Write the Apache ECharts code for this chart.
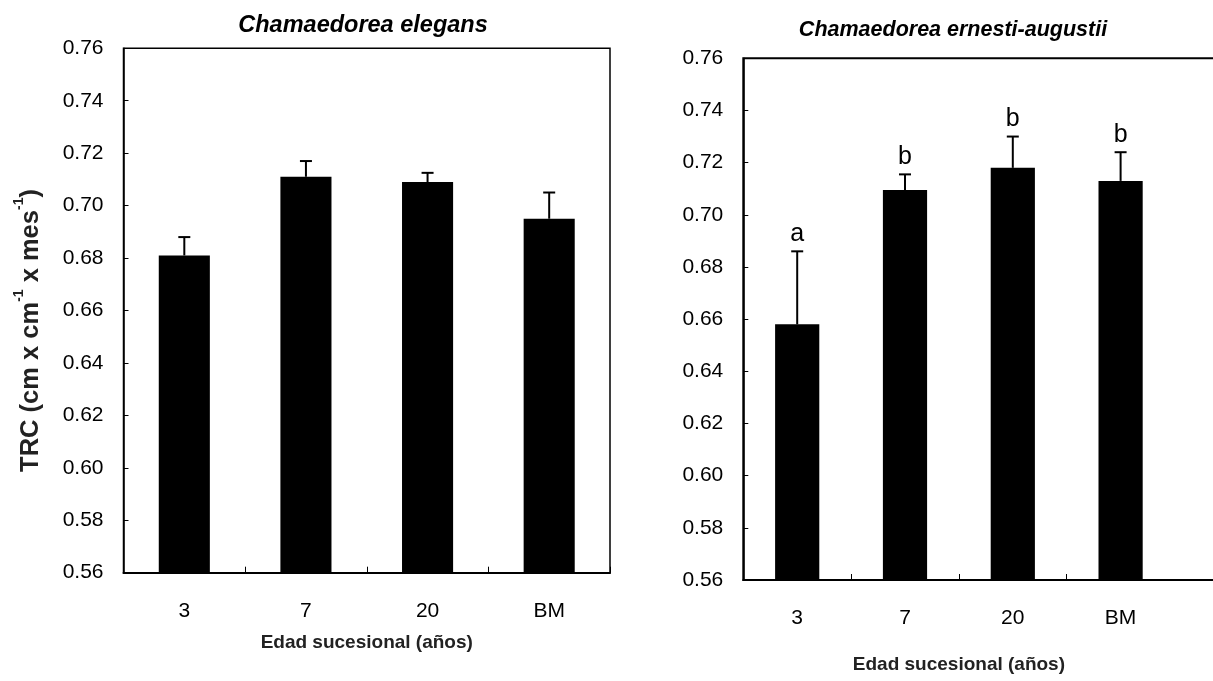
<!DOCTYPE html>
<html>
<head>
<meta charset="utf-8">
<script src="https://cdn.jsdelivr.net/npm/echarts@6/dist/echarts.min.js"></script>
<style>
  html, body { margin: 0; padding: 0; background: #fff; }
  #chart { width: 1213px; height: 681px; }
</style>
</head>
<body>
<div id="chart"></div>
<script>
// Successional age classes
const categories = ['3', '7', '20', 'BM'];

// Mean relative growth rate and standard error, Chamaedorea elegans
const elegansMean = [0.681, 0.711, 0.709, 0.695];
const elegansSE = [0.007, 0.006, 0.0035, 0.010];

// Mean relative growth rate and standard error, Chamaedorea ernesti-augustii
const ernestiMean = [0.658, 0.7095, 0.718, 0.713];
const ernestiSE = [0.028, 0.006, 0.012, 0.011];
const ernestiLetters = ['a', 'b', 'b', 'b'];

// Value axis ticks
const yMin = 0.56, yMax = 0.76, yStep = 0.02;

const FONT = '"Liberation Sans", Arial, sans-serif';

function valueAxis(gridIndex, extra) {
  return Object.assign({
    type: 'value', gridIndex: gridIndex,
    min: yMin, max: yMax, interval: yStep,
    axisLine: { show: true, lineStyle: { color: '#000', width: 1.5 } },
    axisTick: { show: true, inside: true, length: 5, lineStyle: { color: '#000', width: 1 } },
    axisLabel: {
      color: '#000', fontFamily: FONT, fontSize: 21, margin: 20,
      formatter: v => v.toFixed(2)
    },
    splitLine: { show: false }
  }, extra || {});
}

function categoryAxis(gridIndex, labelMargin, nameGap, showTicks) {
  return {
    type: 'category', gridIndex: gridIndex, data: categories,
    axisLine: { show: true, lineStyle: { color: '#000', width: 2 } },
    axisTick: { show: showTicks, inside: true, length: 6, lineStyle: { color: '#000', width: 1 } },
    axisLabel: { color: '#000', fontFamily: FONT, fontSize: 21, margin: labelMargin },
    name: 'Edad sucesional (años)', nameLocation: 'middle', nameGap: nameGap,
    nameTextStyle: { color: '#222', fontFamily: FONT, fontWeight: 'bold', fontSize: 19 }
  };
}

// Upward error bar with a cap, plus an optional letter above it
function errorBars(xIdx, yIdx, means, ses, letters) {
  return {
    type: 'custom', xAxisIndex: xIdx, yAxisIndex: yIdx, z: 5,
    data: means.map((m, i) => [i, m, m + ses[i]]),
    renderItem: function (params, api) {
      const base = api.coord([api.value(0), api.value(1)]);
      const top = api.coord([api.value(0), api.value(2)]);
      const cap = 6;
      const children = [
        { type: 'line', shape: { x1: base[0], y1: base[1], x2: top[0], y2: top[1] },
          style: { stroke: '#000', lineWidth: 2 } },
        { type: 'line', shape: { x1: top[0] - cap, y1: top[1], x2: top[0] + cap, y2: top[1] },
          style: { stroke: '#000', lineWidth: 2 } }
      ];
      if (letters) {
        children.push({
          type: 'text', x: top[0], y: top[1] - 5,
          style: { text: letters[params.dataIndex], fill: '#000', fontFamily: FONT,
                   fontSize: 25, align: 'center', verticalAlign: 'bottom' }
        });
      }
      return { type: 'group', children: children };
    }
  };
}

const chart = echarts.init(document.getElementById('chart'), null, { renderer: 'canvas' });

chart.setOption({
  animation: false,
  title: [
    { text: 'Chamaedorea elegans', left: 358, top: 9, textAlign: 'center',
      textStyle: { fontFamily: FONT, fontStyle: 'italic', fontWeight: 'bold', fontSize: 23.5, color: '#000' } },
    { text: 'Chamaedorea ernesti-augustii', left: 948, top: 14, textAlign: 'center',
      textStyle: { fontFamily: FONT, fontStyle: 'italic', fontWeight: 'bold', fontSize: 21.5, color: '#000' } }
  ],
  grid: [
    { left: 123.5, top: 48.3, width: 486.5, height: 524.4, outerBoundsMode: 'none',
      show: true, borderColor: '#000', borderWidth: 1.5, backgroundColor: 'transparent' },
    { left: 743.3, top: 58.3, width: 431.2, height: 521.7, outerBoundsMode: 'none' },
    // frame of the second panel, 1.2 times as wide so it runs past the page edge
    { left: 743.3, top: 58.3, width: 517.44, height: 521.7, outerBoundsMode: 'none',
      show: true, borderColor: '#000', borderWidth: 2, backgroundColor: 'transparent' }
  ],
  xAxis: [
    categoryAxis(0, 28, 61, true),
    categoryAxis(1, 28, 75, false),
    // category separators of the second panel (one unit per category)
    { type: 'value', gridIndex: 2, min: 0, max: 4.8,
      axisLine: { show: false }, axisLabel: { show: false }, splitLine: { show: false },
      axisTick: { show: true, inside: true, length: 6, customValues: [1, 2, 3],
                  lineStyle: { color: '#000', width: 1 } } }
  ],
  yAxis: [
    valueAxis(0, {
      name: '{t|TRC (cm x cm}{s|-1}{t| x mes}{s|-1}{t|)}',
      nameLocation: 'middle', nameGap: 80,
      nameTextStyle: {
        padding: [0, 0, 0, -40],
        rich: {
          t: { fontFamily: FONT, fontWeight: 'bold', fontSize: 25.5, color: '#222', lineHeight: 31, verticalAlign: 'bottom' },
          s: { fontFamily: FONT, fontWeight: 'bold', fontSize: 14, color: '#222', lineHeight: 31, verticalAlign: 'top' }
        }
      }
    }),
    valueAxis(1),
    { type: 'value', gridIndex: 2, min: 0, max: 1, show: false }
  ],
  series: [
    { type: 'bar', xAxisIndex: 0, yAxisIndex: 0, data: elegansMean, barWidth: '42%',
      itemStyle: { color: '#000' } },
    errorBars(0, 0, elegansMean, elegansSE, null),
    { type: 'bar', xAxisIndex: 1, yAxisIndex: 1, data: ernestiMean, barWidth: '41%',
      itemStyle: { color: '#000' } },
    errorBars(1, 1, ernestiMean, ernestiSE, ernestiLetters)
  ]
});
</script>
</body>
</html>
